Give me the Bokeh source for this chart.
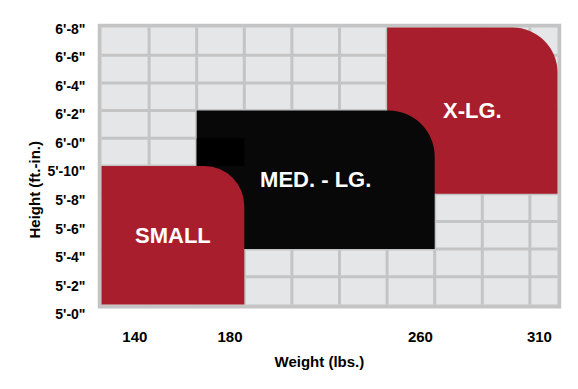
from bokeh.plotting import figure
from bokeh.models import Range1d, LinearAxis, FixedTicker, Label, Title
from bokeh.embed import file_html
from bokeh.resources import INLINE

# ---- data ----
weight_ticks = [140, 180, 260, 310]
height_ticks = [60, 62, 64, 66, 68, 70, 72, 74, 76, 78, 80]
height_labels = ["5'-0\"", "5'-2\"", "5'-4\"", "5'-6\"", "5'-8\"", "5'-10\"",
                 "6'-0\"", "6'-2\"", "6'-4\"", "6'-6\"", "6'-8\""]
grid_weights = [126, 146, 166, 186, 206, 226, 246, 266, 286, 306, 317.6]
grid_heights = [60, 62, 64, 66, 68, 70, 72, 74, 76, 78, 80]

sizes = ["SMALL", "MED. - LG.", "X-LG."]
size_wmin = [126, 166, 246]
size_wmax = [186, 266, 317.6]
size_hmin = [60, 64, 68]
size_hmax = [70, 74, 80]
size_colors = ["#A91E2D", "#080808", "#A91E2D"]
size_radius = [40, 46, 45]

shade_wmin = [166]
shade_wmax = [186]
shade_hmin = [70]
shade_hmax = [72]

GRID = "#C4C4C4"
CELL = "#E5E6E8"
FONT = "Liberation Sans"

# pixel scales of the chart
PX_PER_LB = 2.38
PX_PER_IN = 13.85
bw = 4 / PX_PER_LB   # outer border thickness in data units
bh = 4 / PX_PER_IN

p = figure(width=570, height=381, output_backend="svg", toolbar_location=None,
           x_range=Range1d(grid_weights[0] - bw, grid_weights[-1] + bw),
           y_range=Range1d(58.70, grid_heights[-1] + bh),
           min_border_left=97, min_border_right=9, min_border_top=23,
           min_border_bottom=59, y_axis_location=None)
p.background_fill_color = "white"
p.border_fill_color = "white"
p.outline_line_color = None
p.xgrid.visible = False
p.ygrid.visible = False

# outer border
p.quad(left=[grid_weights[0] - bw], right=[grid_weights[-1] + bw],
       bottom=[grid_heights[0] - bh], top=[grid_heights[-1] + bh],
       fill_color=GRID, line_color=None)
# light cells
p.quad(left=[grid_weights[0]], right=[grid_weights[-1]],
       bottom=[grid_heights[0]], top=[grid_heights[-1]],
       fill_color=CELL, line_color=None)
inner_w = grid_weights[1:-1]
inner_h = grid_heights[1:-1]
p.segment(x0=inner_w, x1=inner_w, y0=[grid_heights[0]] * len(inner_w),
          y1=[grid_heights[-1]] * len(inner_w), line_color=GRID, line_width=3)
p.segment(x0=[grid_weights[0]] * len(inner_h), x1=[grid_weights[-1]] * len(inner_h),
          y0=inner_h, y1=inner_h, line_color=GRID, line_width=3)

# size regions (drawn X-LG first, SMALL last)
for i in reversed(range(len(sizes))):
    p.quad(left=[size_wmin[i]], right=[size_wmax[i]], bottom=[size_hmin[i]],
           top=[size_hmax[i]], fill_color=size_colors[i], line_color=None,
           border_radius=(0, size_radius[i], 0, 0))
    if i == 1:
        p.quad(left=shade_wmin, right=shade_wmax, bottom=shade_hmin, top=shade_hmax,
               fill_color="#000000", line_color=None)

for i in range(len(sizes)):
    p.add_layout(Label(x=(size_wmin[i] + size_wmax[i]) / 2,
                       y=(size_hmin[i] + size_hmax[i]) / 2,
                       text=sizes[i], text_color="white", text_font=FONT,
                       text_font_style="bold", text_font_size="22px",
                       text_align="center", text_baseline="middle"))

# x axis
xa = p.xaxis[0]
xa.ticker = FixedTicker(ticks=weight_ticks)
xa.axis_line_color = None
xa.major_tick_line_color = None
xa.minor_tick_line_color = None
xa.major_label_standoff = 3
xa.major_label_text_font = FONT
xa.major_label_text_font_style = "bold"
xa.major_label_text_font_size = "15px"
xa.major_label_text_color = "black"

# y axis (tick labels sit slightly below grid lines)
p.extra_y_ranges = {"labels": Range1d(59.437, 80.35)}
ya = LinearAxis(y_range_name="labels", ticker=FixedTicker(ticks=height_ticks))
ya.major_label_overrides = {h: l for h, l in zip(height_ticks, height_labels)}
ya.axis_line_color = None
ya.major_tick_line_color = None
ya.minor_tick_line_color = None
ya.major_label_standoff = 6
ya.major_label_text_font = FONT
ya.major_label_text_font_style = "bold"
ya.major_label_text_font_size = "14px"
ya.major_label_text_color = "black"
p.add_layout(ya, "left")

# axis titles
p.add_layout(Title(text="Weight (lbs.)", align="left", offset=177,
                   text_font=FONT, text_font_style="bold", text_font_size="15px",
                   text_color="black", standoff=12), "below")
p.add_layout(Title(text="Height (ft.-in.)", align="left", offset=84,
                   text_font=FONT, text_font_style="bold", text_font_size="15px",
                   text_color="black", standoff=4), "left")

open("out.html", "w").write(file_html(p, INLINE))
